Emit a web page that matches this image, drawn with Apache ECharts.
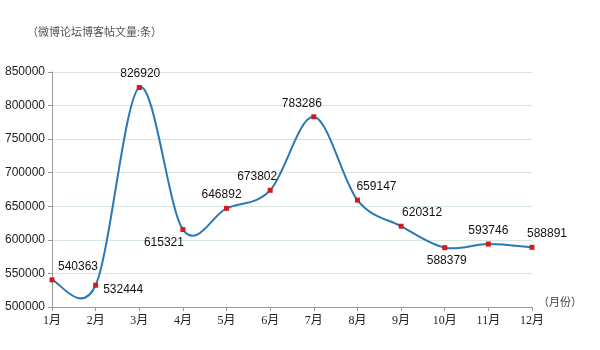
<!DOCTYPE html>
<html>
<head>
<meta charset="utf-8">
<script src="https://cdn.jsdelivr.net/npm/echarts@6/dist/echarts.min.js"></script>
<style>html,body{margin:0;padding:0;background:#fff;}#c{width:600px;height:350px;}</style>
</head>
<body>
<div id="c"></div>
<script>
var categories = ['1月','2月','3月','4月','5月','6月','7月','8月','9月','10月','11月','12月'];
var values = [540363, 532444, 826920, 615321, 646892, 673802, 783286, 659147, 620312, 588379, 593746, 588891];
var yTicks = [500000, 850000, 50000];
var yTitle = '（微博论坛博客帖文量:条）';
var xTitle = '（月份）';
// label placement per point: [position, dx, dy]
var labelPlace = [
  ['top', 26, 0], ['right', 0, 4], ['top', 1, 0], ['bottom', -19, 0],
  ['top', -5, 0], ['top', -13, 0], ['top', -12, 0], ['top', 19, 0],
  ['top', 21, 0], ['bottom', 2, 0], ['top', 0, 0], ['top', 15, 0]
];

var chart = echarts.init(document.getElementById('c'));
var data = values.map(function (v, i) {
  return {
    value: v,
    label: { position: labelPlace[i][0], offset: [labelPlace[i][1], labelPlace[i][2]] }
  };
});
// Excel-style smoothed segment (Catmull-Rom, tension 1/6) from point i-1 to point i
function renderSeg(params, api) {
  var i = api.value(0);
  if (i < 1) return null;
  var n = values.length;
  function P(k) { k = Math.max(0, Math.min(n - 1, k)); return api.coord([k, values[k]]); }
  var p0 = P(i - 2), p1 = P(i - 1), p2 = P(i), p3 = P(i + 1);
  var c1 = [p1[0] + (p2[0] - p0[0]) / 6, p1[1] + (p2[1] - p0[1]) / 6];
  var c2 = [p2[0] - (p3[0] - p1[0]) / 6, p2[1] - (p3[1] - p1[1]) / 6];
  return {
    type: 'bezierCurve',
    shape: { x1: p1[0], y1: p1[1], cpx1: c1[0], cpy1: c1[1], cpx2: c2[0], cpy2: c2[1], x2: p2[0], y2: p2[1] },
    style: { stroke: '#2a78b4', lineWidth: 2, fill: null, lineCap: 'round' }
  };
}
chart.setOption({
  animation: false,
  grid: { left: 52, right: 68, top: 72, bottom: 43, containLabel: false },
  graphic: [
    { type: 'text', left: 27, top: 26, style: { text: yTitle, fontSize: 11, fill: '#555', fontFamily: 'Noto Sans CJK SC' } },
    { type: 'text', left: 538, top: 296, style: { text: xTitle, fontSize: 11, fill: '#444', fontFamily: 'Noto Sans CJK SC' } }
  ],
  xAxis: {
    type: 'category',
    data: categories,
    boundaryGap: false,
    axisLine: { lineStyle: { color: '#9a9a9a', width: 1 } },
    axisTick: { show: true, alignWithLabel: true, length: 4, lineStyle: { color: '#9a9a9a' } },
    axisLabel: { color: '#222', fontSize: 12, margin: 8, fontFamily: "'Liberation Serif', 'Noto Sans CJK SC'" },
    splitLine: { show: false }
  },
  yAxis: {
    type: 'value',
    min: yTicks[0], max: yTicks[1], interval: yTicks[2],
    axisLine: { show: true, lineStyle: { color: '#9a9a9a', width: 1 } },
    axisTick: { show: true, length: 4, lineStyle: { color: '#9a9a9a' } },
    axisLabel: { color: '#222', fontSize: 12, margin: 7, fontFamily: "'Liberation Sans'", formatter: function (v) { return String(v); } },
    splitLine: { show: true, lineStyle: { color: '#d6e6dc', width: 1 } }
  },
  series: [{
    type: 'custom',
    renderItem: renderSeg,
    data: values.map(function (v, i) { return [i, v]; }),
    encode: { x: 0, y: 1 },
    z: 1,
    silent: true
  }, {
    type: 'line',
    data: data,
    symbol: 'rect',
    symbolSize: 5,
    z: 3,
    itemStyle: { color: '#d01c1c' },
    lineStyle: { opacity: 0 },
    label: { show: true, color: '#111', fontSize: 12, fontFamily: "'Liberation Sans'", distance: 5 }
  }]
});
</script>
</body>
</html>
